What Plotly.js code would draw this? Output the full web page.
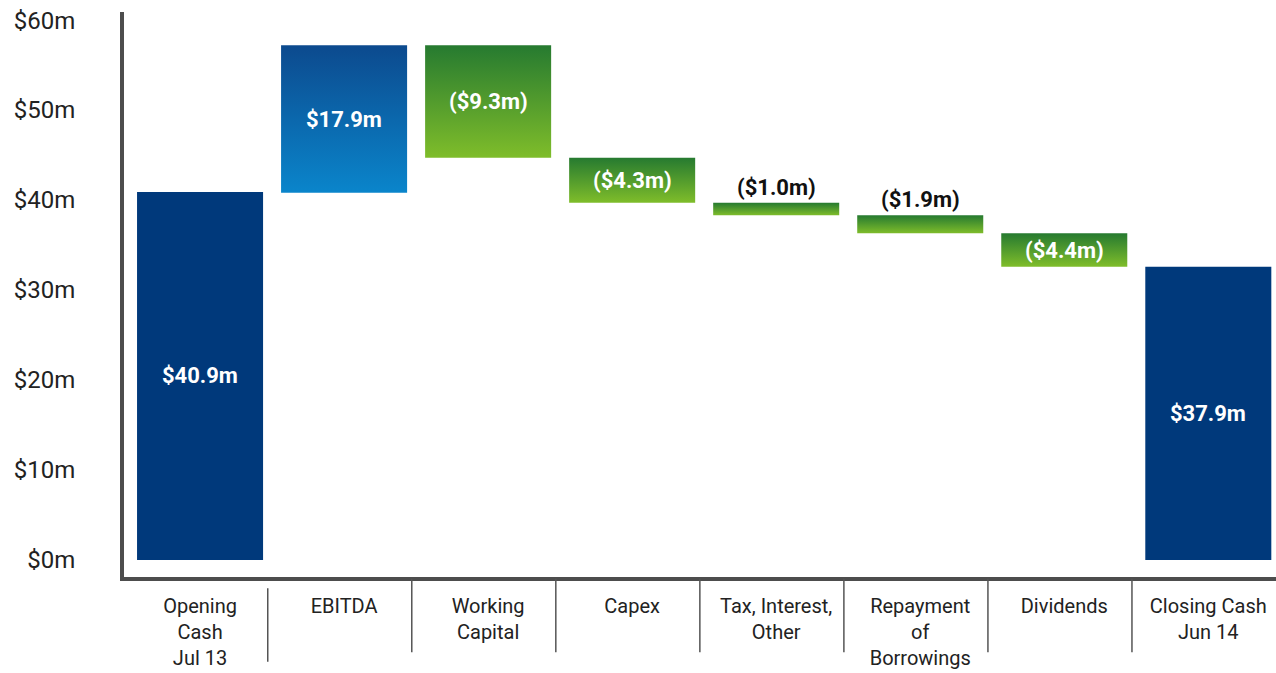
<!DOCTYPE html>
<html>
<head>
<meta charset="utf-8">
<script src="https://cdn.plot.ly/plotly-3.0.1.min.js"></script>
<style>
  html, body { margin: 0; padding: 0; background: #fff; }
  #plot { width: 1276px; height: 673px; }
</style>
</head>
<body>
<div id="plot"></div>
<script>
// categories and bar values as drawn (visual start/end of each step)
const categories = ['Opening<br>Cash<br>Jul 13', 'EBITDA', 'Working<br>Capital', 'Capex',
                    'Tax, Interest,<br>Other', 'Repayment<br>of<br>Borrowings', 'Dividends', 'Closing Cash<br>Jun 14'];
const barBase = [0, 40.8, 44.7, 39.7, 38.3, 36.3, 32.6, 0];
const barTop = [40.9, 57.2, 57.2, 44.7, 39.7, 38.3, 36.3, 32.6];
const barLabels = ['$40.9m', '$17.9m', '($9.3m)', '($4.3m)', '($1.0m)', '($1.9m)', '($4.4m)', '$37.9m'];
const barKind = ['total', 'up', 'down', 'down', 'down', 'down', 'down', 'total'];
const labelAbove = [false, false, false, false, true, true, false, false];
const yTickVals = [0, 10, 20, 30, 40, 50, 60];
const yTickText = ['$0m', '$10m', '$20m', '$30m', '$40m', '$50m', '$60m'];

const FONT = 'Liberation Sans Narrow, Roboto, Arial, sans-serif';
const half = 0.4375;

const traces = [];
const annotations = [];
const shapes = [];

categories.forEach((c, i) => {
    const t = {
        x: [i - half, i + half, i + half, i - half, i - half],
        y: [barBase[i], barBase[i], barTop[i], barTop[i], barBase[i]],
        type: 'scatter', mode: 'lines', fill: 'toself',
        line: { width: 0 }, hoverinfo: 'skip', showlegend: false
    };
    if (barKind[i] === 'total') {
        t.fillcolor = '#00397b';
    } else if (barKind[i] === 'up') {
        t.fillgradient = { type: 'vertical', colorscale: [[0, '#0a85cb'], [1, '#0c4a8e']] };
    } else {
        t.fillgradient = { type: 'vertical', colorscale: [[0, '#7fbd2a'], [1, '#267a30']] };
    }
    traces.push(t);

    const mid = (barBase[i] + barTop[i]) / 2;
    annotations.push({
        x: i, y: labelAbove[i] ? barTop[i] : mid,
        xref: 'x', yref: 'y', showarrow: false,
        yanchor: labelAbove[i] ? 'bottom' : 'middle', yshift: labelAbove[i] ? 1 : 0,
        text: '<b>' + barLabels[i] + '</b>',
        font: { family: FONT, size: 22, color: labelAbove[i] ? '#111' : '#ffffff' }
    });

    // separators between the category labels
    if (i < categories.length - 1) {
        shapes.push({
            type: 'line', xref: 'x', yref: 'paper',
            x0: i + 0.47, x1: i + 0.47,
            y0: i === 0 ? -0.02 : -0.003, y1: i === 0 ? -0.15 : -0.133,
            line: { color: '#555', width: 1.5 }
        });
    }
});

const layout = {
    width: 1276, height: 673,
    margin: { l: 124, r: 0, t: 12, b: 96 },
    paper_bgcolor: '#fff', plot_bgcolor: '#fff',
    showlegend: false,
    font: { family: FONT, color: '#222' },
    xaxis: {
        range: [-0.528, 7.47],
        tickmode: 'array', tickvals: categories.map((c, i) => i), ticktext: categories,
        showline: true, linewidth: 4, linecolor: '#4d4d4d',
        showgrid: false, zeroline: false, ticks: '',
        ticklabelstandoff: 8,
        tickfont: { family: FONT, size: 20, color: '#222' }
    },
    yaxis: {
        range: [-1.89, 60.9],
        tickmode: 'array', tickvals: yTickVals, ticktext: yTickText,
        showline: true, linewidth: 4, linecolor: '#4d4d4d',
        showgrid: false, zeroline: false, ticks: '',
        ticklabelstandoff: 40,
        tickfont: { family: FONT, size: 24, color: '#222' }
    },
    annotations: annotations,
    shapes: shapes
};

Plotly.newPlot('plot', traces, layout, { displayModeBar: false, staticPlot: true });
</script>
</body>
</html>
